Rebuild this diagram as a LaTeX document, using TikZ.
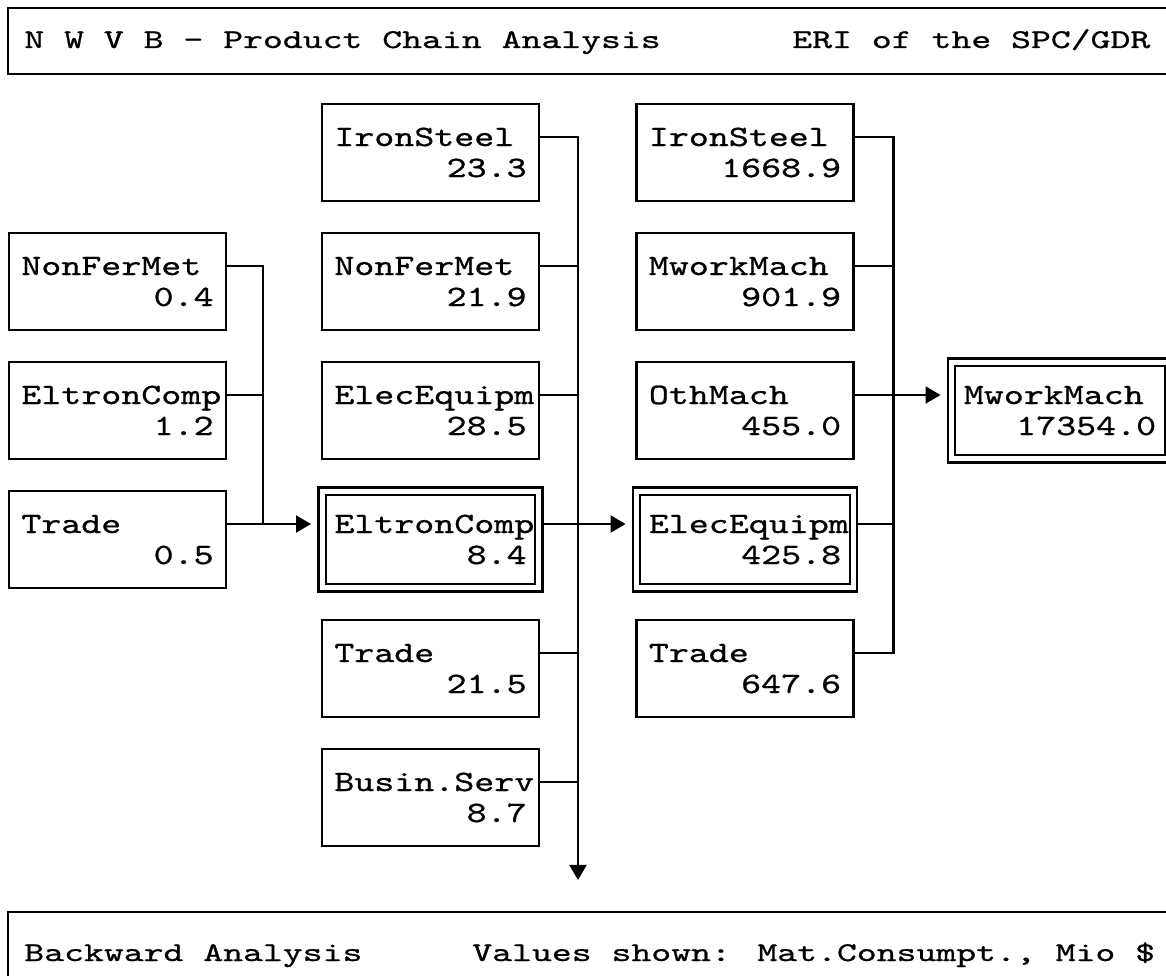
\documentclass[tikz,border=0pt]{standalone}
\usepackage{fontspec}
\newfontfamily\boxfont{lmmono10-regular}[Extension=.otf, FakeStretch=1.29, FakeBold=0.8]
\newfontfamily\barfont{lmmono10-regular}[Extension=.otf, FakeStretch=1.4, FakeBold=0.8]
\usetikzlibrary{arrows.meta, positioning, calc, backgrounds}

\begin{document}
\begin{tikzpicture}[
    x=0.02cm, y=-0.02cm,
    % --- styles ---
    sector/.style={draw, line width=1.5pt, rectangle, minimum width=4.34cm, minimum height=1.94cm, inner sep=0pt, outer sep=0pt},
    % double frame for the chain itself
    focus/.style={sector, line width=1.2pt, double, double distance=0.1cm},
    name text/.style={font={\boxfont\fontsize{16.8}{20}\selectfont}, anchor=base west, inner sep=0pt},
    value text/.style={name text, anchor=base east},
    bar text/.style={font={\barfont\fontsize{15.4}{18}\selectfont}, anchor=base west, inner sep=0pt},
    frame/.style={line width=1.5pt},
    link/.style={line width=1.2pt},
    flow/.style={link, -{Triangle[length=0.3cm, width=0.34cm]}, shorten >=0.22cm}
]
    \useasboundingbox (0,0) rectangle (1166,976);

    % --- 1. title bar ---
    \draw[frame] (8,8) rectangle (1190,74);
    \node[bar text] (title) at (24,48) {N W V B - Product Chain Analysis};
    \node[bar text] (inst) at (792,48) {ERI of the SPC/GDR};

    % --- 2. third stage (left column) ---
    \node[sector] (l1) at (117.5,281.5) {};
    \node[name text] (l1n) at ($(l1.north west)+(12,42)$) {NonFerMet};
    \node[value text] (l1v) at ($(l1.north east)+(-12,73)$) {0.4};

    \node[sector] (l2) at (117.5,410.5) {};
    \node[name text] (l2n) at ($(l2.north west)+(12,42)$) {EltronComp};
    \node[value text] (l2v) at ($(l2.north east)+(-12,73)$) {1.2};

    \node[sector] (l3) at (117.5,539.5) {};
    \node[name text] (l3n) at ($(l3.north west)+(12,42)$) {Trade};
    \node[value text] (l3v) at ($(l3.north east)+(-12,73)$) {0.5};

    % --- 3. second stage (middle column) ---
    \node[sector] (m1) at (430.5,152.5) {};
    \node[name text] (m1n) at ($(m1.north west)+(12,42)$) {IronSteel};
    \node[value text] (m1v) at ($(m1.north east)+(-12,73)$) {23.3};

    \node[sector] (m2) at (430.5,281.5) {};
    \node[name text] (m2n) at ($(m2.north west)+(12,42)$) {NonFerMet};
    \node[value text] (m2v) at ($(m2.north east)+(-12,73)$) {21.9};

    \node[sector] (m3) at (430.5,410.5) {};
    \node[name text] (m3n) at ($(m3.north west)+(12,42)$) {ElecEquipm};
    \node[value text] (m3v) at ($(m3.north east)+(-12,73)$) {28.5};

    \node[focus] (m4) at (430.5,539.5) {};
    \node[name text] (m4n) at ($(m4.north west)+(12,42)$) {EltronComp};
    \node[value text] (m4v) at ($(m4.north east)+(-12,73)$) {8.4};

    \node[sector] (m5) at (430.5,668.5) {};
    \node[name text] (m5n) at ($(m5.north west)+(12,42)$) {Trade};
    \node[value text] (m5v) at ($(m5.north east)+(-12,73)$) {21.5};

    \node[sector] (m6) at (430.5,797.5) {};
    \node[name text] (m6n) at ($(m6.north west)+(12,42)$) {Busin.Serv};
    \node[value text] (m6v) at ($(m6.north east)+(-12,73)$) {8.7};

    % --- 4. first stage (right column) ---
    \node[sector] (r1) at (745,152.5) {};
    \node[name text] (r1n) at ($(r1.north west)+(12,42)$) {IronSteel};
    \node[value text] (r1v) at ($(r1.north east)+(-12,73)$) {1668.9};

    \node[sector] (r2) at (745,281.5) {};
    \node[name text] (r2n) at ($(r2.north west)+(12,42)$) {MworkMach};
    \node[value text] (r2v) at ($(r2.north east)+(-12,73)$) {901.9};

    \node[sector] (r3) at (745,410.5) {};
    \node[name text] (r3n) at ($(r3.north west)+(12,42)$) {OthMach};
    \node[value text] (r3v) at ($(r3.north east)+(-12,73)$) {455.0};

    \node[focus] (r4) at (745,539.5) {};
    \node[name text] (r4n) at ($(r4.north west)+(12,42)$) {ElecEquipm};
    \node[value text] (r4v) at ($(r4.north east)+(-12,73)$) {425.8};

    \node[sector] (r5) at (745,668.5) {};
    \node[name text] (r5n) at ($(r5.north west)+(12,42)$) {Trade};
    \node[value text] (r5v) at ($(r5.north east)+(-12,73)$) {647.6};

    % --- 5. final product ---
    \node[focus] (fin) at (1060,410.5) {};
    \node[name text] (finn) at ($(fin.north west)+(12,42)$) {MworkMach};
    \node[value text] (finv) at ($(fin.north east)+(-12,73)$) {17354.0};

    % --- 6. connectors (under the frames) ---
    \coordinate (sink) at ($(m6.south east)+(39,34)$);
    \begin{scope}[on background layer]
        % left bus
        \draw[link] ($(l1.north east)+(0,33)$) -- ++(37,0) |- ($(l3.north east)+(0,33)$);
        \draw[link] ($(l2.north east)+(0,33)$) -- ++(37,0);
        \draw[flow] ($(l3.north east)+(0,33)$) -- ($(m4.north west)+(0,33)$);

        % middle bus, running down past the last box
        \draw[flow, shorten >=0pt] ($(m1.north east)+(0,33)$) -- ++(39,0) -- (sink);
        \draw[link] ($(m2.north east)+(0,33)$) -- ++(39,0);
        \draw[link] ($(m3.north east)+(0,33)$) -- ++(39,0);
        \draw[link] ($(m5.north east)+(0,33)$) -- ++(39,0);
        \draw[link] ($(m6.north east)+(0,33)$) -- ++(39,0);
        \draw[flow] ($(m4.north east)+(0,33)$) -- ($(r4.north west)+(0,33)$);

        % right bus
        \draw[link] ($(r1.north east)+(0,33)$) -- ++(40,0) |- ($(r5.north east)+(0,33)$);
        \draw[link] ($(r2.north east)+(0,33)$) -- ++(40,0);
        \draw[link] ($(r4.north east)+(0,33)$) -- ++(40,0);
        \draw[flow] ($(r3.north east)+(0,33)$) -- ($(fin.north west)+(0,33)$);
    \end{scope}

    % --- 7. status bar ---
    \draw[frame] (8,912) rectangle (1190,1010);
    \node[bar text] (mode) at (24,961) {Backward Analysis};
    \node[bar text] (unit) at (472,961) {Values shown: Mat.Consumpt., Mio \$};

\end{tikzpicture}
\end{document}
